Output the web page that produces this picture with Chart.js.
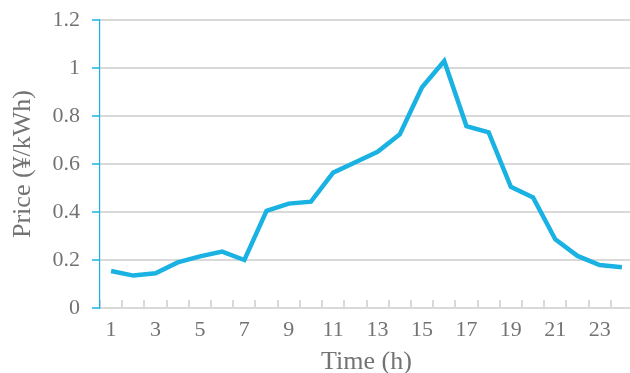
<!DOCTYPE html>
<html>
<head>
<meta charset="utf-8">
<script src="https://cdn.jsdelivr.net/npm/chart.js@4/dist/chart.umd.min.js"></script>
<style>
  html, body { margin: 0; padding: 0; background: #fff; overflow: hidden; }
  #wrap { width: 633px; height: 373px; position: relative; }
</style>
</head>
<body>
<div id="wrap"><canvas id="priceChart"></canvas></div>
<script>
// Часы суток и цена электроэнергии
const hours = ['1','2','3','4','5','6','7','8','9','10','11','12',
               '13','14','15','16','17','18','19','20','21','22','23','24'];
const prices = [0.154, 0.135, 0.145, 0.19, 0.215, 0.235, 0.2, 0.405,
                0.435, 0.443, 0.564, 0.607, 0.651, 0.724, 0.92, 1.029,
                0.758, 0.732, 0.505, 0.461, 0.286, 0.217, 0.179, 0.17];
const yTicks = [0, 0.2, 0.4, 0.6, 0.8, 1, 1.2];

const textColor = '#737373';
const lineBlue = '#19b2e3';
const gridGray = '#d9d9d9';
const serif = '"Liberation Serif", "Times New Roman", serif';

const ctx = document.getElementById('priceChart').getContext('2d');

new Chart(ctx, {
    type: 'line',
    data: {
        labels: hours,
        datasets: [{
            data: prices,
            borderColor: lineBlue,
            borderWidth: 4.5,
            pointRadius: 0,
            tension: 0,
            fill: false
        }]
    },
    options: {
        responsive: true,
        maintainAspectRatio: false,
        animation: false,
        layout: { padding: { top: 20, right: 0, left: 0, bottom: 0 } },
        plugins: {
            legend: { display: false },
            tooltip: { enabled: false }
        },
        scales: {
            x: {
                offset: true,
                afterFit: (scale) => { scale.height = 65; },
                grid: {
                    offset: true,
                    drawOnChartArea: false,
                    color: gridGray,
                    tickLength: -8,
                    lineWidth: 2
                },
                border: { color: gridGray, width: 2 },
                ticks: {
                    autoSkip: false,
                    maxRotation: 0,
                    padding: 10,
                    color: textColor,
                    font: { family: serif, size: 22, lineHeight: 1.82 },
                    callback: function(value, index) {
                        return index % 2 === 0 ? hours[index] : '';
                    }
                },
                title: {
                    display: true,
                    text: 'Time (h)',
                    color: textColor,
                    font: { family: serif, size: 26, lineHeight: 1 },
                    padding: { top: 0, bottom: -2 }
                }
            },
            y: {
                min: yTicks[0],
                max: yTicks[yTicks.length - 1],
                afterFit: (scale) => {
                    scale.width = 100;
                    scale.paddingTop = 0;
                    scale.paddingBottom = 0;
                },
                afterBuildTicks: (scale) => {
                    scale.ticks = yTicks.map(v => ({ value: v }));
                },
                grid: {
                    color: gridGray,
                    lineWidth: 2,
                    tickColor: lineBlue,
                    tickLength: 8,
                    tickWidth: 1.5
                },
                border: { color: lineBlue, width: 1.2 },
                ticks: {
                    padding: 12,
                    color: textColor,
                    font: { family: serif, size: 22 },
                    callback: (v) => String(Math.round(v * 10) / 10)
                },
                title: {
                    display: true,
                    text: 'Price (¥/kWh)',
                    color: textColor,
                    font: { family: serif, size: 26, lineHeight: 1.2 },
                    padding: { top: 8, bottom: 0 }
                }
            }
        }
    }
});
</script>
</body>
</html>
